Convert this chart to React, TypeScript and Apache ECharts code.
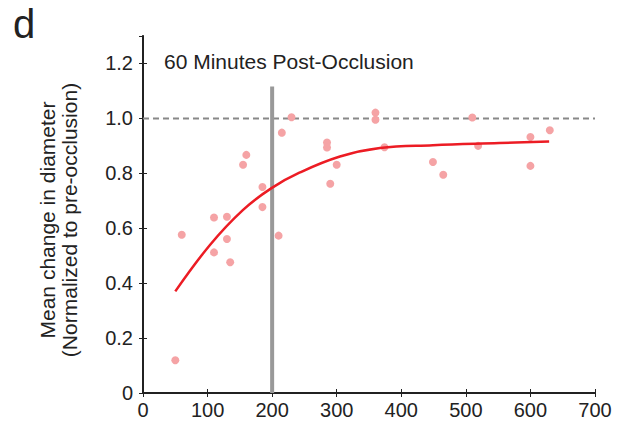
import React, { useEffect, useRef } from "react";
import * as echarts from "echarts";

const scatterX = [50, 60, 110, 110, 130, 130, 135, 155, 160, 185, 185, 210, 215, 230, 285, 285, 290, 300, 360, 360, 374, 449, 465, 510, 519, 600, 600, 630];
const scatterY = [0.119, 0.576, 0.639, 0.512, 0.642, 0.561, 0.476, 0.831, 0.867, 0.75, 0.677, 0.573, 0.948, 1.004, 0.912, 0.894, 0.762, 0.831, 1.021, 0.995, 0.895, 0.841, 0.795, 1.003, 0.9, 0.932, 0.827, 0.957];

const fitX = [50, 104, 155, 199, 243, 305, 367, 449, 552, 629];
const fitY = [0.37, 0.54, 0.667, 0.746, 0.803, 0.861, 0.892, 0.902, 0.91, 0.916];

const thresholdX = [200, 200];
const thresholdY = [0, 1.116];
const refX = [0, 700];
const refY = [1, 1];

const titleText = "60 Minutes Post-Occlusion";
const yLabelLines = ["Mean change in diameter", "(Normalized to pre-occlusion)"];
const panelLabel = "d";

const FONT = "Liberation Sans, Arial, Helvetica, sans-serif";

export default function App() {
  const ref = useRef<HTMLDivElement>(null);
  useEffect(() => {
    if (!ref.current) return;
    const chart = echarts.init(ref.current, null, { renderer: "svg" });
    const zip = (xs: number[], ys: number[]) => xs.map((x, i) => [x, ys[i]]);
    const gridLeft = 143, gridTop = 36, gridRight = 30, gridBottom = 32;
    chart.setOption({
      animation: false,
      textStyle: { fontFamily: FONT },
      grid: { left: gridLeft, right: gridRight, top: gridTop, bottom: gridBottom },
      xAxis: [
        {
          type: "value", min: 0, max: 700, interval: 100,
          axisLine: { lineStyle: { color: "#222", width: 2 } },
          axisTick: { inside: true, length: 4, lineStyle: { color: "#222", width: 1 } },
          axisLabel: { color: "#222", fontSize: 20, margin: 7, fontFamily: FONT },
          splitLine: { show: false },
        },
        {
          type: "value", position: "top", min: 0, max: 700, interval: 100,
          axisLine: { show: true, lineStyle: { color: "#222", width: 1.5 } },
          axisTick: { inside: true, length: 4, lineStyle: { color: "#222", width: 1 } },
          axisLabel: { show: false },
          splitLine: { show: false },
        },
      ],
      yAxis: [
        {
          type: "value", min: 0, max: 1.3, interval: 0.2,
          axisLine: { lineStyle: { color: "#222", width: 2 } },
          axisTick: { inside: true, length: 4, lineStyle: { color: "#222", width: 1 } },
          axisLabel: {
            color: "#222", fontSize: 20, margin: 10, fontFamily: FONT, showMaxLabel: false,
            formatter: (v: number) => (v === 0 ? "0" : v.toFixed(1)),
          },
          splitLine: { show: false },
        },
        {
          type: "value", position: "right", min: 0, max: 1.3, interval: 0.2,
          axisLine: { show: true, lineStyle: { color: "#222", width: 1.5 } },
          axisTick: { inside: true, length: 4, lineStyle: { color: "#222", width: 1 } },
          axisLabel: { show: false },
          splitLine: { show: false },
        },
      ],
      graphic: [
        {
          type: "text", x: 13, y: 4,
          style: { text: panelLabel, font: `40px ${FONT}`, fill: "#222", textVerticalAlign: "top" },
        },
        {
          type: "text", x: 164, y: 61,
          style: { text: titleText, font: `21px ${FONT}`, fill: "#222", textVerticalAlign: "middle" },
        },
        {
          type: "text", x: 47, y: 220, rotation: Math.PI / 2,
          style: { text: yLabelLines[0], font: `21px ${FONT}`, fill: "#222", textAlign: "center", textVerticalAlign: "middle" },
        },
        {
          type: "text", x: 69, y: 220, rotation: Math.PI / 2,
          style: { text: yLabelLines[1], font: `21px ${FONT}`, fill: "#222", textAlign: "center", textVerticalAlign: "middle" },
        },
      ],
      series: [
        {
          type: "line", data: zip(refX, refY), symbol: "none", z: 1,
          lineStyle: { color: "#888", width: 2, type: [6, 4] },
        },
        {
          type: "line", data: zip(thresholdX, thresholdY), symbol: "none", z: 2,
          lineStyle: { color: "#999", width: 4 },
        },
        {
          type: "scatter", data: zip(scatterX, scatterY), symbolSize: 8, z: 3,
          itemStyle: { color: "#f5a3a5", opacity: 1 },
        },
        {
          type: "line", data: zip(fitX, fitY), symbol: "none", smooth: 0.4, z: 4,
          lineStyle: { color: "#ec1c24", width: 2.5 },
        },
      ],
    });
    return () => chart.dispose();
  }, []);
  return <div ref={ref} style={{ width: 625, height: 425, position: "absolute", left: 0, top: 0 }} />;
}
